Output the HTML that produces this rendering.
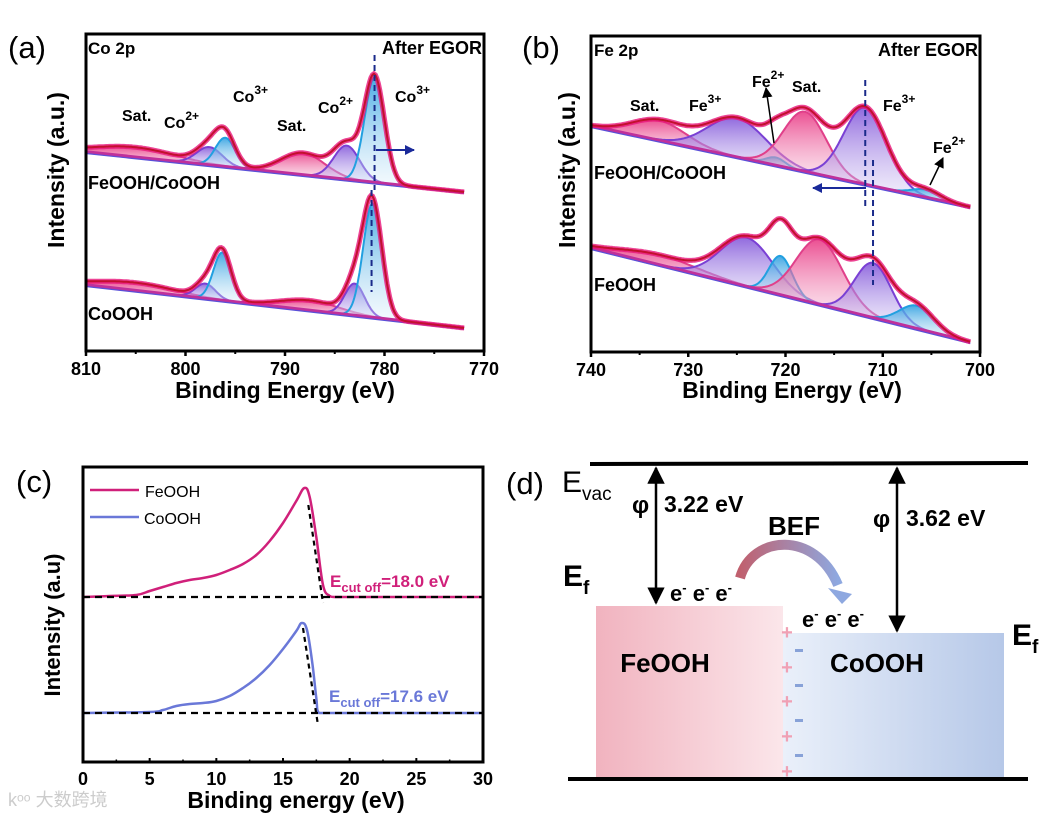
<!DOCTYPE html>
<html><head><meta charset="utf-8"><style>
html,body{margin:0;padding:0;background:#fff;}
svg{display:block;font-family:"Liberation Sans",Arial,sans-serif;}
.b{font-weight:bold;}
</style></head><body>
<svg id="fig" width="1055" height="823" viewBox="0 0 1055 823" xmlns="http://www.w3.org/2000/svg">
<defs>
<linearGradient id="g-sat" x1="0" y1="0" x2="0" y2="1"><stop offset="0" stop-color="#e8317f" stop-opacity="0.85"/><stop offset="1" stop-color="#f7c6dc" stop-opacity="0.35"/></linearGradient>
<linearGradient id="g-co2" x1="0" y1="0" x2="0" y2="1"><stop offset="0" stop-color="#7d4fd8" stop-opacity="0.85"/><stop offset="1" stop-color="#d9cff5" stop-opacity="0.35"/></linearGradient>
<linearGradient id="g-co3" x1="0" y1="0" x2="0" y2="1"><stop offset="0" stop-color="#2f9fe0" stop-opacity="0.9"/><stop offset="1" stop-color="#d6ecfa" stop-opacity="0.3"/></linearGradient>
<linearGradient id="g-fe" x1="0" y1="0" x2="1" y2="0"><stop offset="0" stop-color="#f1b3bf"/><stop offset="1" stop-color="#fbe6ea"/></linearGradient>
<linearGradient id="g-cob" x1="0" y1="0" x2="1" y2="0"><stop offset="0" stop-color="#eaf0fa"/><stop offset="1" stop-color="#b6c8e8"/></linearGradient>
<linearGradient id="g-bef" x1="0" y1="0" x2="1" y2="0"><stop offset="0" stop-color="#c0606e"/><stop offset="1" stop-color="#8ea8e0"/></linearGradient>
<marker id="ah" viewBox="0 0 10 10" refX="9" refY="5" markerWidth="7" markerHeight="7" orient="auto-start-reverse"><path d="M0,0 L10,5 L0,10 z" fill="#000"/></marker>
<marker id="ahb" viewBox="0 0 10 10" refX="9" refY="5" markerWidth="5" markerHeight="5" orient="auto"><path d="M0,0 L10,5 L0,10 z" fill="#1a2a9a"/></marker>
</defs>
<g id="pa"></g>
<g id="pb"></g>
<g id="pc"></g>
<g id="pd">
<text x="506" y="494" font-size="31">(d)</text>
<line x1="590" y1="464" x2="1028" y2="463" stroke="#000" stroke-width="4"/>
<line x1="568" y1="779" x2="1028" y2="779" stroke="#000" stroke-width="4"/>
<rect x="596" y="606" width="187" height="171" fill="url(#g-fe)"/>
<rect x="783" y="633" width="221" height="144" fill="url(#g-cob)"/>
<text x="562" y="492" font-size="30">E<tspan font-size="19" dy="8">vac</tspan></text>
<text x="563" y="586" font-size="30" class="b">E<tspan font-size="19" dy="8">f</tspan></text>
<text x="1012" y="645" font-size="30" class="b">E<tspan font-size="19" dy="8">f</tspan></text>
<line x1="656" y1="468" x2="656" y2="603" stroke="#000" stroke-width="2.5" marker-start="url(#ah)" marker-end="url(#ah)"/>
<line x1="897" y1="468" x2="897" y2="631" stroke="#000" stroke-width="2.5" marker-start="url(#ah)" marker-end="url(#ah)"/>
<text x="632" y="513" font-size="24" class="b">φ</text>
<text x="664" y="512" font-size="23" class="b">3.22 eV</text>
<text x="873" y="527" font-size="24" class="b">φ</text>
<text x="906" y="526" font-size="23" class="b">3.62 eV</text>
<text x="768" y="535" font-size="26" class="b">BEF</text>
<path d="M740,578 C752,535 815,530 838,585" stroke="url(#g-bef)" stroke-width="10" fill="none"/>
<path d="M828,588 L852,594 L842,604 Z" fill="#8ea8e0"/>
<text x="670" y="601" font-size="22" class="b">e<tspan dy="-9" font-size="13">-</tspan><tspan dy="9"> e</tspan><tspan dy="-9" font-size="13">-</tspan><tspan dy="9"> e</tspan><tspan dy="-9" font-size="13">-</tspan></text>
<text x="802" y="627" font-size="22" class="b">e<tspan dy="-9" font-size="13">-</tspan><tspan dy="9"> e</tspan><tspan dy="-9" font-size="13">-</tspan><tspan dy="9"> e</tspan><tspan dy="-9" font-size="13">-</tspan></text>
<text x="665" y="672" font-size="26" class="b" text-anchor="middle">FeOOH</text>
<text x="877" y="672" font-size="26" class="b" text-anchor="middle">CoOOH</text>
<g fill="#f0a0b4" font-size="20" class="b" text-anchor="middle">
<text x="787" y="639">+</text><text x="787" y="674">+</text><text x="787" y="708">+</text><text x="787" y="743">+</text><text x="787" y="778">+</text></g>
<g fill="#88a2d8">
<rect x="795" y="649" width="8" height="3"/><rect x="795" y="684" width="8" height="3"/><rect x="795" y="719" width="8" height="3"/><rect x="795" y="754" width="8" height="3"/></g>
</g>
<text x="8" y="806" font-size="18" fill="#ccc">kᵒᵒ 大数跨境</text>
</svg>
<script>
// ---------- DATA ----------
// Panel a: Co 2p peaks [center eV, sigma eV, height, type]
const aTopPeaks = [[805,4,10,'sat'],[797.6,1.3,18,'co2'],[796,1.0,29,'co3'],[788.2,2.2,22,'sat'],[783.8,1.3,34,'co2'],[781,1.0,105,'co3']];
const aBotPeaks = [[805,4,8,'sat'],[798,1.0,15,'co2'],[796.3,0.9,48,'co3'],[787.5,3,10,'sat'],[783,1.0,32,'co2'],[781.2,0.95,114,'co3']];
const aTopBaseline = [199,159];
const aBotBaseline = [66,23];
const aTicks = [810,800,790,780,770];
// Panel b: Fe 2p peaks
const bTopPeaks = [[733,2.8,20,'sat'],[725,3,39,'co2'],[721,1,8,'co3'],[718,2.2,60,'sat'],[711.8,2.2,77,'co2'],[705.5,1.5,8,'co3']];
const bBotPeaks = [[733,4,10,'sat'],[724,2.7,49,'co2'],[720.5,1.2,39,'co3'],[716.5,2.4,65,'sat'],[711,1.9,55,'co2'],[706.5,1.8,23,'co3']];
const bTopBaseline = [226,145];
const bBotBaseline = [104,10];
const bTicks = [740,730,720,710,700];
// Panel c: UPS spectra
const cFeE = [0,2,4,5,6,7,8,9,10,11,12,13,14,15,16,16.6,17,17.5,18,18.5,19,30];
const cFeI = [0,1,2,6,10,14,17,19,22,27,33,42,56,74,96,109,100,60,12,1,0,0];
const cCoE = [0,5,6,7,8,9,10,11,12,13,14,15,16,16.4,16.8,17.2,17.5,17.7,30];
const cCoI = [0,1,3,7,9,10,12,17,25,35,48,64,82,90,83,50,15,0,0];
const cTicks = [0,5,10,15,20,25,30];
const cCutoffs = [18.0,17.6];

const NS='http://www.w3.org/2000/svg';
function mk(parent,tag,attrs,text){const e=document.createElementNS(NS,tag);for(const k in attrs)e.setAttribute(k,attrs[k]);if(text!==undefined)e.textContent=text;parent.appendChild(e);return e;}
const gauss=(x,c,s,h)=>h*Math.exp(-(x-c)*(x-c)/(2*s*s));
const col={sat:'#e0408a',co2:'#7a40d4',co3:'#22a0e0'};

function xpsPanel(g,opt){
  const {x0,x1,y0,y1,dom,ticks}=opt;
  const xs=e=>x0+(dom[0]-e)/(dom[0]-dom[1])*(x1-x0);
  const ys=v=>y1-v;
  const ax=mk(g,'g',{});
  
  
  ticks.forEach((t,i)=>{
    const x=xs(t);
    mk(ax,'line',{x1:x,y1:y1,x2:x,y2:y1+5,stroke:'#000','stroke-width':2.5});
    const tl=mk(ax,'text',{x:x,y:y1+24,'text-anchor':'middle','font-size':18,'font-weight':'bold'},t);
    
    
    if(i<ticks.length-1){const xm=xs(t-(ticks[0]-ticks[1])/2);mk(ax,'line',{x1:xm,y1:y1,x2:xm,y2:y1+3,stroke:'#000','stroke-width':2});}
  });
  opt.spectra.forEach((sp,si)=>{
    const sg=mk(g,'g',{});
    
    
    const eA=sp.range[0],eB=sp.range[1];
    const N=260;const pts=[];
    for(let i=0;i<=N;i++)pts.push(eA+(eB-eA)*i/N);
    const base=e=>sp.base[0]+(sp.base[1]-sp.base[0])*(e-eA)/(eB-eA);
    sp.peaks.forEach(p=>{
      const lo=Math.max(eB,p[0]-3.2*p[1]),hi=Math.min(eA,p[0]+3.2*p[1]);
      const pp=[];for(let i=0;i<=60;i++)pp.push(hi-(hi-lo)*i/60);
      const top=pp.map((e,i)=>(i?'L':'M')+xs(e).toFixed(1)+','+ys(base(e)+gauss(e,p[0],p[1],p[2])).toFixed(1)).join('');
      const bot=pp.slice().reverse().map(e=>'L'+xs(e).toFixed(1)+','+ys(base(e)).toFixed(1)).join('');
      const pk=mk(sg,'path',{d:top+bot+'Z',fill:'url(#g-'+p[3]+')',stroke:'none'});
      
      
      mk(sg,'path',{d:top,fill:'none',stroke:col[p[3]],'stroke-width':2});
    });
    const bl=mk(sg,'line',{x1:xs(eA),y1:ys(base(eA)),x2:xs(eB),y2:ys(base(eB)),stroke:'#c0309a','stroke-width':3.5});
    
    
    mk(sg,'line',{x1:xs(eA),y1:ys(base(eA))+1.5,x2:xs(eB),y2:ys(base(eB))+1.5,stroke:'#5a50d8','stroke-width':1.2});
    const env=pts.map((e,i)=>(i?'L':'M')+xs(e).toFixed(1)+','+ys(base(e)+sp.peaks.reduce((s,p)=>s+gauss(e,p[0],p[1],p[2]),0)).toFixed(1)).join('');
    const raw=mk(sg,'path',{d:env,fill:'none',stroke:'#e8157a','stroke-width':5,'stroke-opacity':0.8});
    
    
    const fit=mk(sg,'path',{d:env,fill:'none',stroke:'#c2102e','stroke-width':2});
    
    
  });
  opt.dashes.forEach(d=>{mk(g,'line',{x1:xs(d[0]),y1:d[1],x2:xs(d[0]),y2:d[2],stroke:'#1a2a8a','stroke-width':2,'stroke-dasharray':'6,4'});});
  const fr=mk(g,'rect',{x:x0,y:y0,width:x1-x0,height:y1-y0,fill:'none',stroke:'#000','stroke-width':3});
  
  
  return xs;
}
function txt(g,x,y,s,size,name,extra){const t=mk(g,'text',Object.assign({x:x,y:y,'font-size':size,'font-weight':'bold'},extra||{}));t.innerHTML=s;return t;}
const sup=(a,b)=>a+'<tspan dy="-8" font-size="12">'+b+'</tspan>';

// Panel a
const pa=document.getElementById('pa');
xpsPanel(pa,{x0:86,x1:484,y0:34,y1:351,dom:[810,770],ticks:aTicks,
 spectra:[{name:'spectrum-feooh-cooh',range:[810,772],base:aTopBaseline,peaks:aTopPeaks},{name:'spectrum-cooh',range:[810,772],base:aBotBaseline,peaks:aBotPeaks}],
 dashes:[[781,55,190],[781.3,190,292]]});
txt(pa,8,58,'(a)',31,'panel-label-a',{'font-weight':'normal'});
txt(pa,88,54,'Co 2p',17,'core-level-label');
txt(pa,482,54,'After EGOR',18,'condition-label',{'text-anchor':'end'});
txt(pa,122,121,'Sat.',16,'peak-label');
txt(pa,164,128,sup('Co','2+'),16,'peak-label');
txt(pa,233,102,sup('Co','3+'),16,'peak-label');
txt(pa,277,131,'Sat.',16,'peak-label');
txt(pa,318,113,sup('Co','2+'),16,'peak-label');
txt(pa,395,102,sup('Co','3+'),16,'peak-label');
txt(pa,88,189,'FeOOH/CoOOH',18,'sample-label');
txt(pa,88,320,'CoOOH',18,'sample-label');
mk(pa,'line',{x1:376,y1:150,x2:414,y2:150,stroke:'#1a2a9a','stroke-width':2,'marker-end':'url(#ahb)'});
txt(pa,285,398,'Binding Energy (eV)',23,'x-axis-title',{'text-anchor':'middle'});
txt(pa,0,0,'Intensity (a.u.)',23,'y-axis-title',{'text-anchor':'middle',transform:'translate(64,170) rotate(-90)'});

// Panel b
const pb=document.getElementById('pb');
xpsPanel(pb,{x0:591,x1:980,y0:36,y1:352,dom:[740,700],ticks:bTicks,
 spectra:[{name:'spectrum-feooh-cooh',range:[740,701],base:bTopBaseline,peaks:bTopPeaks},{name:'spectrum-feooh',range:[740,701],base:bBotBaseline,peaks:bBotPeaks}],
 dashes:[[711.8,80,207],[711,160,285]]});
txt(pb,522,58,'(b)',31,'panel-label-b',{'font-weight':'normal'});
txt(pb,594,56,'Fe 2p',17,'core-level-label');
txt(pb,978,56,'After EGOR',18,'condition-label',{'text-anchor':'end'});
txt(pb,630,111,'Sat.',16,'peak-label');
txt(pb,689,111,sup('Fe','3+'),16,'peak-label');
txt(pb,752,87,sup('Fe','2+'),16,'peak-label');
txt(pb,792,92,'Sat.',16,'peak-label');
txt(pb,883,111,sup('Fe','3+'),16,'peak-label');
txt(pb,933,153,sup('Fe','2+'),16,'peak-label');
txt(pb,594,179,'FeOOH/CoOOH',18,'sample-label');
txt(pb,594,291,'FeOOH',18,'sample-label');
mk(pb,'line',{x1:866,y1:188,x2:813,y2:188,stroke:'#1a2a9a','stroke-width':2,'marker-end':'url(#ahb)'});
mk(pb,'line',{x1:774,y1:143,x2:766,y2:88,stroke:'#000','stroke-width':1.5,'marker-end':'url(#ah)'});
mk(pb,'line',{x1:930,y1:185,x2:943,y2:158,stroke:'#000','stroke-width':1.5,'marker-end':'url(#ah)'});
txt(pb,792,398,'Binding Energy (eV)',23,'x-axis-title',{'text-anchor':'middle'});
txt(pb,0,0,'Intensity (a.u.)',23,'y-axis-title',{'text-anchor':'middle',transform:'translate(575,170) rotate(-90)'});

// Panel c
const pc=document.getElementById('pc');
(function(){
 const x0=83,x1=483,y0=467,y1=762;
 const xs=e=>x0+e/30*(x1-x0);
 const feBase=597,coBase=713;
 const ax=mk(pc,'g',{});
 
 
 cTicks.forEach((t,i)=>{const x=xs(t);mk(ax,'line',{x1:x,y1:y1,x2:x,y2:y1-4,stroke:'#000','stroke-width':2});
  const tl=mk(ax,'text',{x:x,y:y1+23,'text-anchor':'middle','font-size':18,'font-weight':'bold'},t);
  
  
  if(i<cTicks.length-1)mk(ax,'line',{x1:xs(t+2.5),y1:y1,x2:xs(t+2.5),y2:y1-2.5,stroke:'#000','stroke-width':1.5});});
 const clamp=(v,a,b)=>Math.max(Math.min(a,b),Math.min(Math.max(a,b),v));
 function curve(E,I,base,color,name){
  const P=E.map((e,i)=>[xs(e),base-I[i]]);
  let d='M'+P[0][0].toFixed(1)+','+P[0][1].toFixed(1);
  for(let i=0;i<P.length-1;i++){
   const p0=P[Math.max(0,i-1)],p1=P[i],p2=P[i+1],p3=P[Math.min(P.length-1,i+2)];
   const t=0.18;
   const c1=[clamp(p1[0]+(p2[0]-p0[0])*t,p1[0],p2[0]),Math.min(base,p1[1]+(p2[1]-p0[1])*t)];
   const c2=[clamp(p2[0]-(p3[0]-p1[0])*t,p1[0],p2[0]),Math.min(base,p2[1]-(p3[1]-p1[1])*t)];
   d+='C'+c1[0].toFixed(1)+','+c1[1].toFixed(1)+' '+c2[0].toFixed(1)+','+c2[1].toFixed(1)+' '+p2[0].toFixed(1)+','+p2[1].toFixed(1);
  }
  const p=mk(pc,'path',{d:d,fill:'none',stroke:color,'stroke-width':2.5,'stroke-linejoin':'round'});
  
  
 }
 curve(cFeE,cFeI,feBase,'#d0207a','feooh-curve');
 curve(cCoE,cCoI,coBase,'#6a78d8','cooh-curve');
 [feBase,coBase].forEach((b,k)=>{
  const co=cCutoffs[k];
  const dl=mk(pc,'line',{x1:x0,y1:b,x2:x1,y2:b,stroke:'#000','stroke-width':2.2,'stroke-dasharray':'7,5'});
  
  
  const tl=mk(pc,'line',{x1:xs(co-1.1),y1:b-(k?85:92),x2:xs(co),y2:b+(k?10:6),stroke:'#000','stroke-width':2.2,'stroke-dasharray':'5,4'});
  
  
 });
 txt(pc,330,587,'E<tspan font-size="13" dy="5">cut off</tspan><tspan dy="-5">=18.0 eV</tspan>',17,'cutoff-label-feooh',{fill:'#d0207a'});
 txt(pc,329,702,'E<tspan font-size="13" dy="5">cut off</tspan><tspan dy="-5">=17.6 eV</tspan>',17,'cutoff-label-cooh',{fill:'#6a78d8'});
 mk(pc,'line',{x1:90,y1:490,x2:139,y2:490,stroke:'#d0207a','stroke-width':2.5});
 txt(pc,145,497,'FeOOH',16,'legend-feooh',{'font-weight':'normal'});
 mk(pc,'line',{x1:90,y1:517,x2:139,y2:517,stroke:'#6a78d8','stroke-width':2.5});
 txt(pc,144,524,'CoOOH',16,'legend-cooh',{'font-weight':'normal'});
 const fr=mk(pc,'rect',{x:x0,y:y0,width:x1-x0,height:y1-y0,fill:'none',stroke:'#000','stroke-width':3});
 
 
 txt(pc,16,492,'(c)',31,'panel-label-c',{'font-weight':'normal'});
 txt(pc,296,808,'Binding energy (eV)',23,'x-axis-title',{'text-anchor':'middle'});
 txt(pc,0,0,'Intensity (a.u)',22,'y-axis-title',{'text-anchor':'middle',transform:'translate(60,625) rotate(-90)'});
})();
</script>
</body></html>
